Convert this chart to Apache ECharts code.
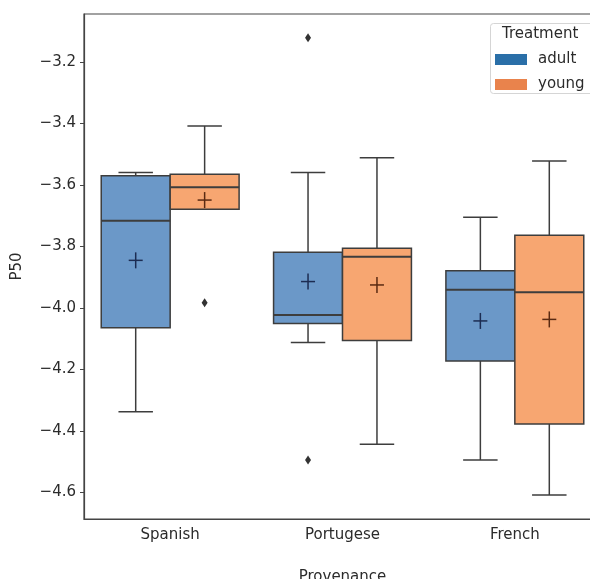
<!DOCTYPE html>
<html>
<head>
<meta charset="utf-8">
<script src="https://cdn.jsdelivr.net/npm/echarts@6/dist/echarts.min.js"></script>
<style>
html,body{margin:0;padding:0;background:#fff;}
#main{width:590px;height:579px;}
</style>
</head>
<body>
<div id="main"></div>
<script>
var categories = ['Spanish', 'Portugese', 'French'];
var groups = ['adult', 'young'];
var yTicks = [-4.6, -4.4, -4.2, -4.0, -3.8, -3.6, -3.4, -3.2];

// adult stats per category
var adultLow  = [-4.337, -4.112, -4.494];
var adultQ1   = [-4.064, -4.050, -4.172];
var adultMed  = [-3.716, -4.023, -3.941];
var adultQ3   = [-3.570, -3.819, -3.879];
var adultHigh = [-3.559, -3.559, -3.705];
var adultMean = [-3.845, -3.914, -4.042];
var adultOutliers = [[1, -3.121], [1, -4.494]];

// young stats per category
var youngLow  = [-3.679, -4.443, -4.608];
var youngQ1   = [-3.679, -4.106, -4.377];
var youngMed  = [-3.607, -3.833, -3.949];
var youngQ3   = [-3.565, -3.806, -3.763];
var youngHigh = [-3.408, -3.511, -3.522];
var youngMean = [-3.649, -3.925, -4.037];
var youngOutliers = [[0, -3.983]];

var boxFill = ['#6b98c8', '#f7a671'];
var legendColor = ['#2a6fa8', '#e9834c'];
var meanColor = ['#1c2c52', '#5a2a12'];
var edge = '#3d3d3d';
var textColor = '#2b2b2b';

function buildBoxData(low, q1, med, q3, high, mean) {
  return categories.map(function (c, i) {
    return [i, low[i], q1[i], med[i], q3[i], high[i], mean[i]];
  });
}

function makeBoxRender(side, fill, mcol) {
  return function (params, api) {
    var idx = api.value(0);
    var bw = api.size([1, 0])[0];
    var c = api.coord([idx, api.value(3)]);
    var cx = c[0] + side * bw * 0.2;
    var half = bw * 0.2;
    var yLow = api.coord([idx, api.value(1)])[1];
    var yQ1 = api.coord([idx, api.value(2)])[1];
    var yMed = c[1];
    var yQ3 = api.coord([idx, api.value(4)])[1];
    var yHigh = api.coord([idx, api.value(5)])[1];
    var yMean = api.coord([idx, api.value(6)])[1];
    var ls = {stroke: edge, lineWidth: 1.5};
    var cap = half / 2;
    return {
      type: 'group',
      children: [
        {type: 'line', shape: {x1: cx, y1: yQ3, x2: cx, y2: yHigh}, style: ls},
        {type: 'line', shape: {x1: cx, y1: yQ1, x2: cx, y2: yLow}, style: ls},
        {type: 'line', shape: {x1: cx - cap, y1: yHigh, x2: cx + cap, y2: yHigh}, style: ls},
        {type: 'line', shape: {x1: cx - cap, y1: yLow, x2: cx + cap, y2: yLow}, style: ls},
        {type: 'rect', shape: {x: cx - half, y: yQ3, width: 2 * half, height: yQ1 - yQ3},
          style: {fill: fill, stroke: edge, lineWidth: 1.5}},
        {type: 'line', shape: {x1: cx - half, y1: yMed, x2: cx + half, y2: yMed}, style: {stroke: edge, lineWidth: 2}},
        {type: 'line', shape: {x1: cx, y1: yMean - 8, x2: cx, y2: yMean + 8}, style: {stroke: mcol, lineWidth: 1.5}},
        {type: 'line', shape: {x1: cx - 7, y1: yMean, x2: cx + 7, y2: yMean}, style: {stroke: mcol, lineWidth: 1.5}}
      ]
    };
  };
}

function makeOutlierRender(side) {
  return function (params, api) {
    var idx = api.value(0);
    var bw = api.size([1, 0])[0];
    var c = api.coord([idx, api.value(1)]);
    var cx = c[0] + side * bw * 0.2;
    var cy = c[1];
    return {
      type: 'polygon',
      shape: {points: [[cx, cy - 4.5], [cx + 3, cy], [cx, cy + 4.5], [cx - 3, cy]]},
      style: {fill: '#333'}
    };
  };
}

var chart = echarts.init(document.getElementById('main'), null, {renderer: 'canvas'});
var fontFam = 'DejaVu Sans';
var fs = 15;
var option = {
  animation: false,
  backgroundColor: '#fff',
  grid: {left: 84, top: 14, right: -11, bottom: 60, show: true, borderColor: '#444', borderWidth: 1.2,
    outerBoundsMode: 'none', containLabel: false},
  xAxis: {
    type: 'category',
    data: categories,
    name: 'Provenance',
    nameLocation: 'middle',
    nameGap: 51,
    nameTextStyle: {fontFamily: fontFam, fontSize: fs, color: textColor, verticalAlign: 'top'},
    axisLine: {lineStyle: {color: '#444', width: 1.2}},
    axisTick: {alignWithLabel: true, length: 4, lineStyle: {color: '#444'}},
    axisLabel: {fontFamily: fontFam, fontSize: fs, color: textColor, margin: 9},
    splitLine: {show: false}
  },
  yAxis: {
    type: 'value',
    min: -4.686,
    max: -3.044,
    name: 'P50',
    nameLocation: 'middle',
    nameRotate: 90,
    nameGap: 59,
    nameTextStyle: {fontFamily: fontFam, fontSize: fs, color: textColor},
    axisLine: {show: true, lineStyle: {color: '#444', width: 1.2}},
    axisTick: {show: true, length: 4, customValues: yTicks, lineStyle: {color: '#444'}},
    axisLabel: {
      fontFamily: fontFam, fontSize: fs, color: textColor, margin: 8,
      customValues: yTicks,
      formatter: function (v) { return v.toFixed(1).replace('-', '\u2212'); }
    },
    splitLine: {show: false}
  },
  legend: {
    orient: 'vertical',
    left: 495,
    top: 52,
    padding: 0,
    itemWidth: 32,
    itemHeight: 11,
    itemGap: 10,
    icon: 'rect',
    textStyle: {fontFamily: fontFam, fontSize: fs, lineHeight: 12, color: textColor, padding: [0, 0, 0, 6]},
    data: [
      {name: groups[0], itemStyle: {color: legendColor[0]}},
      {name: groups[1], itemStyle: {color: legendColor[1]}}
    ]
  },
  graphic: [
    {type: 'rect', left: 490, top: 23, z: 0,
      shape: {width: 110, height: 70, r: 3},
      style: {fill: 'rgba(255,255,255,0.8)', stroke: '#d5d5d5', lineWidth: 1}},
    {type: 'text', left: 502, top: 27, z: 1,
      style: {text: 'Treatment', font: fs + 'px "DejaVu Sans"', fill: textColor}}
  ],
  series: [
    {name: groups[0], type: 'custom', color: legendColor[0],
      renderItem: makeBoxRender(-1, boxFill[0], meanColor[0]),
      encode: {x: 0, y: [1, 2, 3, 4, 5, 6]},
      data: buildBoxData(adultLow, adultQ1, adultMed, adultQ3, adultHigh, adultMean)},
    {name: groups[1], type: 'custom', color: legendColor[1],
      renderItem: makeBoxRender(1, boxFill[1], meanColor[1]),
      encode: {x: 0, y: [1, 2, 3, 4, 5, 6]},
      data: buildBoxData(youngLow, youngQ1, youngMed, youngQ3, youngHigh, youngMean)},
    {name: groups[0] + ' outliers', type: 'custom',
      renderItem: makeOutlierRender(-1), encode: {x: 0, y: 1}, data: adultOutliers},
    {name: groups[1] + ' outliers', type: 'custom',
      renderItem: makeOutlierRender(1), encode: {x: 0, y: 1}, data: youngOutliers}
  ]
};
chart.setOption(option);
</script>
</body>
</html>
